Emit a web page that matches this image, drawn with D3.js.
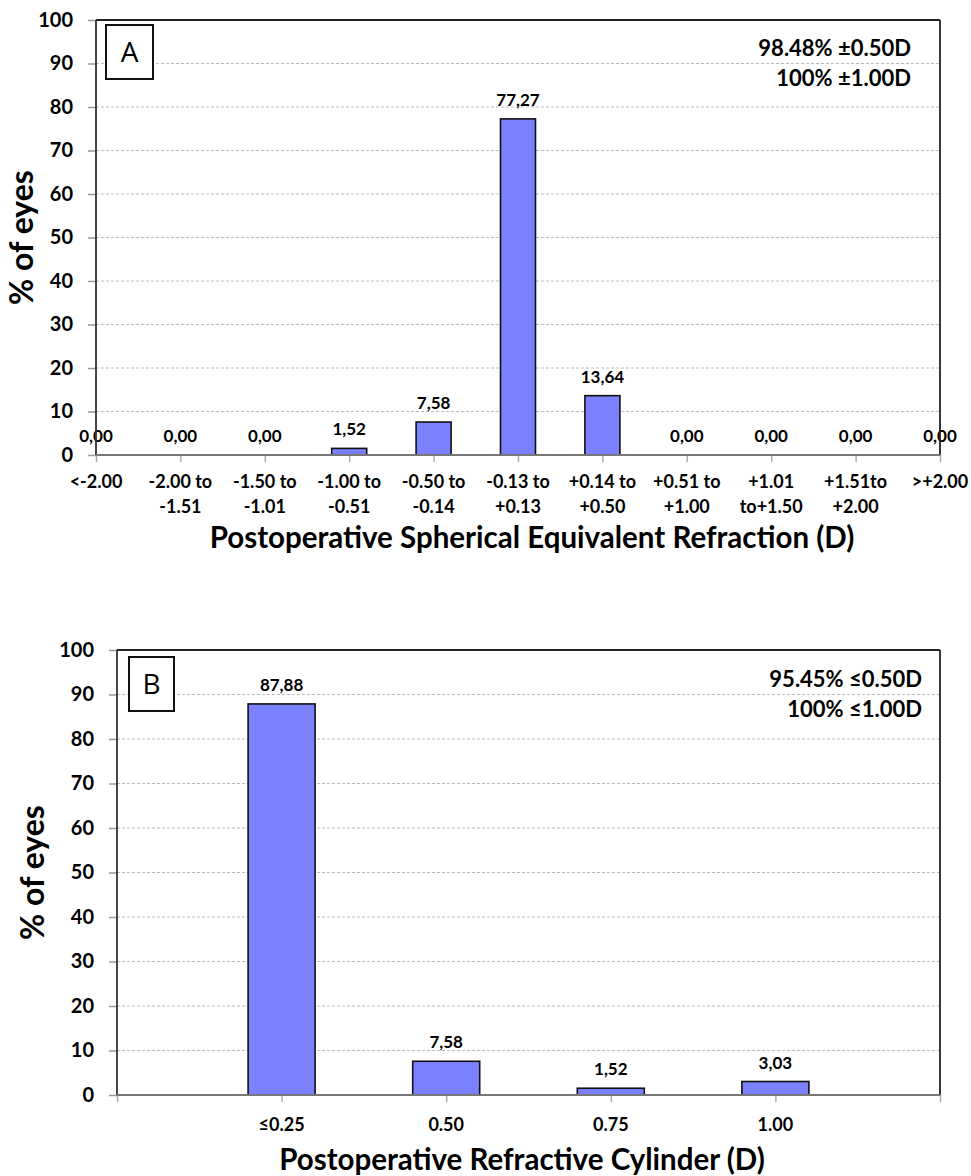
<!DOCTYPE html>
<html>
<head>
<meta charset="utf-8">
<script src="https://cdn.jsdelivr.net/npm/d3@7"></script>
<style>
body { margin: 0; background: #fff; }
svg { display: block; font-family: Lato, "Open Sans", sans-serif; }
</style>
</head>
<body>
<svg id="chart" width="971" height="1176"></svg>
<script>
// ---- Data ----
const seCategories = [
  ["<-2.00"], ["-2.00 to", "-1.51"], ["-1.50 to", "-1.01"], ["-1.00 to", "-0.51"],
  ["-0.50 to", "-0.14"], ["-0.13 to", "+0.13"], ["+0.14 to", "+0.50"], ["+0.51 to", "+1.00"],
  ["+1.01", "to+1.50"], ["+1.51to", "+2.00"], [">+2.00"]
];
const seValues = [0, 0, 0, 1.52, 7.58, 77.27, 13.64, 0, 0, 0, 0];
const seNotes = ["98.48% ±0.50D", "100% ±1.00D"];

const cylCategories = ["≤0.25", "0.50", "0.75", "1.00"];
const cylValues = [87.88, 7.58, 1.52, 3.03];
const cylNotes = ["95.45% ≤0.50D", "100% ≤1.00D"];

const yTicks = [0, 10, 20, 30, 40, 50, 60, 70, 80, 90, 100];
const fmt = v => v.toFixed(2).replace(".", ",");

const svg = d3.select("#chart");
const BAR = "#7b80ff";

function panel(cfg) {
  const g = svg.append("g");
  const y = d3.scaleLinear().domain([0, 100]).range([cfg.bottom, cfg.top]);
  const x = d3.scalePoint().domain(d3.range(cfg.nPoints)).range([cfg.left, cfg.right]);

  // gridlines
  g.selectAll("line.grid").data(yTicks.filter(t => t > 0 && t < 100)).join("line")
    .attr("x1", cfg.left).attr("x2", cfg.right)
    .attr("y1", d => y(d)).attr("y2", d => y(d))
    .attr("stroke", "#bdbdbd").attr("stroke-width", 1).attr("stroke-dasharray", "3,2");

  // y axis
  const ya = g.append("g").attr("transform", `translate(${cfg.left},0)`)
    .call(d3.axisLeft(y).tickValues(yTicks).tickSize(8).tickPadding(15));
  ya.select(".domain").remove();
  ya.selectAll(".tick line").attr("stroke", "#999").attr("stroke-width", 1.5);
  ya.selectAll(".tick text").attr("font-size", 20).attr("font-weight", 700)
    .attr("fill", "#000").attr("font-family", "Lato, sans-serif");

  // x axis ticks
  const xa = g.append("g").attr("transform", `translate(0,${cfg.bottom})`)
    .call(d3.axisBottom(x).tickSize(7).tickFormat(""));
  xa.select(".domain").remove();
  xa.selectAll(".tick line").attr("stroke", "#aaa").attr("stroke-width", 1.5);

  // bars
  g.selectAll("rect.bar").data(cfg.values).join("rect")
    .attr("x", (d, i) => x(cfg.idx(i)) - cfg.barW / 2)
    .attr("y", d => y(d))
    .attr("width", cfg.barW)
    .attr("height", d => cfg.bottom - y(d))
    .attr("fill", BAR).attr("stroke", "#111").attr("stroke-width", 1.6);

  // data labels
  g.selectAll("text.val").data(cfg.values).join("text")
    .attr("x", (d, i) => x(cfg.idx(i)))
    .attr("y", d => y(d) - 13)
    .attr("text-anchor", "middle").attr("font-size", 17).attr("font-weight", 700)
    .text(d => fmt(d));

  // frame
  g.append("line").attr("x1", cfg.left).attr("x2", cfg.right).attr("y1", cfg.top).attr("y2", cfg.top)
    .attr("stroke", "#222").attr("stroke-width", 1.8);
  g.append("line").attr("x1", cfg.right).attr("x2", cfg.right).attr("y1", cfg.top).attr("y2", cfg.bottom)
    .attr("stroke", "#222").attr("stroke-width", 1.8);
  g.append("line").attr("x1", cfg.left).attr("x2", cfg.left).attr("y1", cfg.top).attr("y2", cfg.bottom)
    .attr("stroke", "#333").attr("stroke-width", 1.8);
  g.append("line").attr("x1", cfg.left).attr("x2", cfg.right).attr("y1", cfg.bottom).attr("y2", cfg.bottom)
    .attr("stroke", "#777").attr("stroke-width", 2);

  // category labels
  cfg.categories.forEach((lines, i) => {
    const t = g.append("text").attr("x", x(cfg.idx(i))).attr("y", cfg.catY)
      .attr("text-anchor", "middle").attr("font-size", cfg.catSize).attr("font-weight", 700);
    [].concat(lines).forEach((ln, k) => {
      t.append("tspan").attr("x", x(cfg.idx(i))).attr("dy", k === 0 ? 0 : 25).text(ln);
    });
  });

  // axis titles
  g.append("text").attr("x", cfg.titleX).attr("y", cfg.titleY)
    .attr("text-anchor", "middle").attr("font-size", 29.5).attr("font-weight", 700).text(cfg.xTitle);
  g.append("text").attr("transform", `translate(${cfg.yTitleX},${(cfg.top + cfg.bottom) / 2}) rotate(-90)`)
    .attr("text-anchor", "middle").attr("font-size", 32).attr("font-weight", 700).text("% of eyes");

  // panel letter box
  g.append("rect").attr("x", cfg.box[0]).attr("y", cfg.box[1]).attr("width", cfg.box[2]).attr("height", cfg.box[3])
    .attr("fill", "#fff").attr("stroke", "#111").attr("stroke-width", 2);
  g.append("text").attr("x", cfg.box[0] + cfg.box[2] / 2).attr("y", cfg.box[1] + cfg.box[3] / 2 + 10)
    .attr("text-anchor", "middle").attr("font-size", 28).attr("font-family", "Open Sans, sans-serif").text(cfg.letter);

  // notes
  cfg.notes.forEach((n, k) => {
    g.append("text").attr("x", cfg.noteX).attr("y", cfg.noteY + k * 30)
      .attr("text-anchor", "end").attr("font-size", 22).attr("font-weight", 700).text(n);
  });
}

panel({
  top: 20, bottom: 455, left: 96, right: 940,
  nPoints: seCategories.length, idx: i => i, values: seValues, categories: seCategories,
  barW: 35, catY: 488, catSize: 18,
  xTitle: "Postoperative Spherical Equivalent Refraction (D)", titleX: 532, titleY: 548, yTitleX: 33,
  box: [106, 25, 47, 54], letter: "A",
  notes: seNotes, noteX: 911, noteY: 56
});

panel({
  top: 650, bottom: 1095, left: 117, right: 940,
  nPoints: cylCategories.length + 2, idx: i => i + 1, values: cylValues, categories: cylCategories,
  barW: 67, catY: 1131, catSize: 18,
  xTitle: "Postoperative Refractive Cylinder (D)", titleX: 522, titleY: 1170, yTitleX: 44,
  box: [129, 657, 45, 54], letter: "B",
  notes: cylNotes, noteX: 922, noteY: 687
});
</script>
</body>
</html>
